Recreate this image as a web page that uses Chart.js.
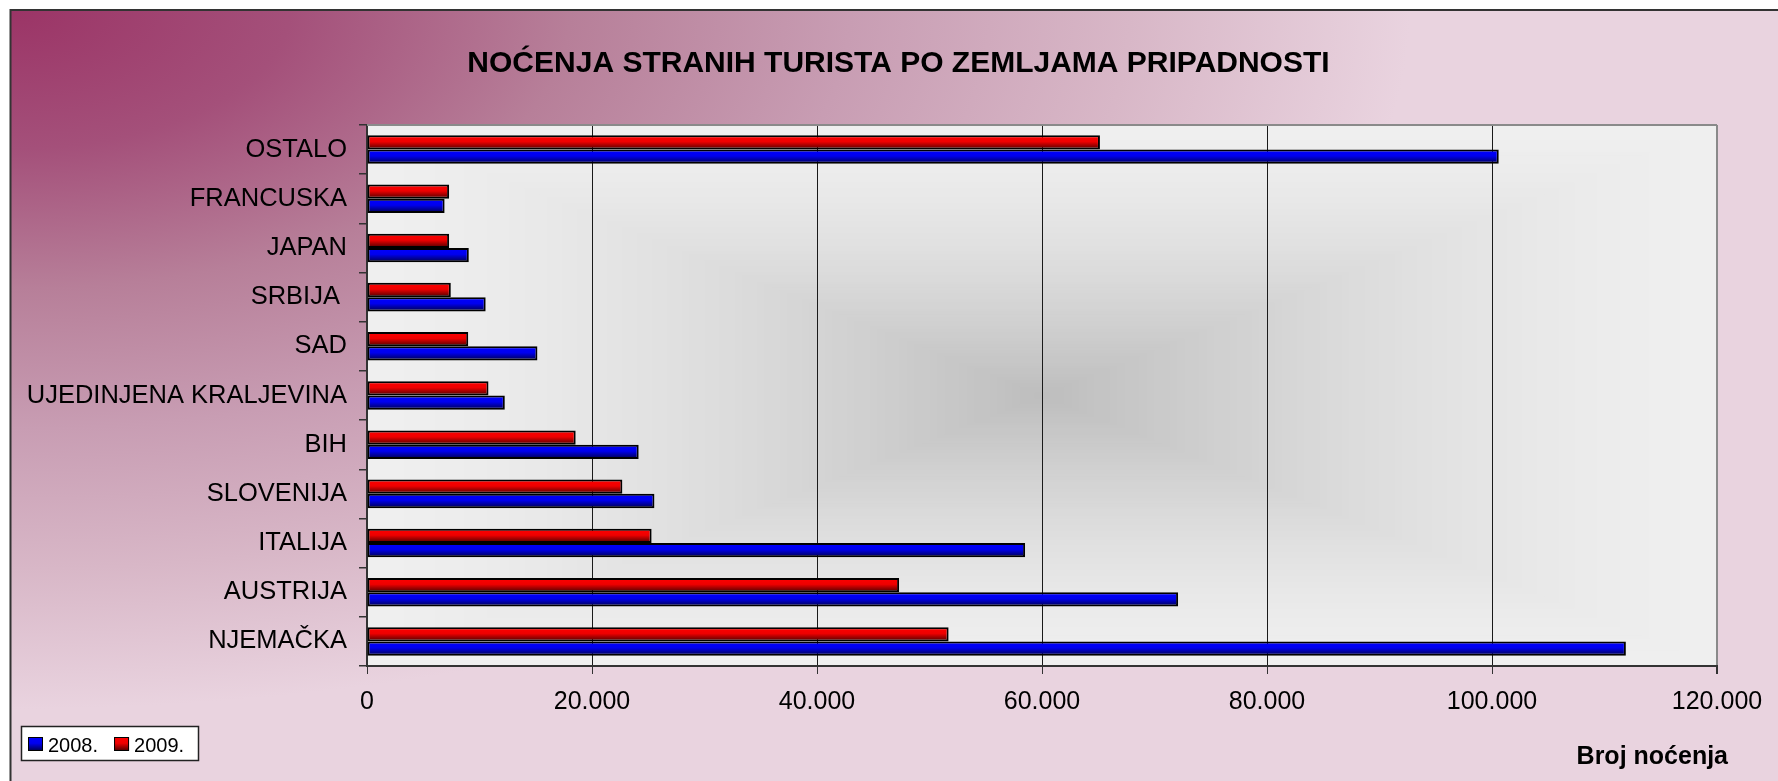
<!DOCTYPE html>
<html>
<head>
<meta charset="utf-8">
<title>Noćenja stranih turista po zemljama pripadnosti</title>
<script src="https://cdn.jsdelivr.net/npm/chart.js@4/dist/chart.umd.min.js"></script>
<style>
  html, body { margin: 0; padding: 0; background: #fff; }
  #wrap { width: 1778px; height: 781px; position: relative; }
</style>
</head>
<body>
<div id="wrap"><canvas id="chart"></canvas></div>
<script>
// categories listed top to bottom, as they appear on the chart
var categories = ['OSTALO', 'FRANCUSKA', 'JAPAN', 'SRBIJA ', 'SAD', 'UJEDINJENA KRALJEVINA',
  'BIH', 'SLOVENIJA', 'ITALIJA', 'AUSTRIJA', 'NJEMAČKA'];
var values2008 = [100600, 6900, 9050, 10550, 15150, 12250, 24150, 25550, 58500, 72100, 111900];
var values2009 = [65150, 7300, 7300, 7450, 9000, 10800, 18550, 22700, 25300, 47300, 51700];
var seriesNames = ['2008.', '2009.'];
var xMin = 0;
var xMax = 120000;
var xStep = 20000;
var chartTitle = 'NOĆENJA STRANIH TURISTA PO ZEMLJAMA PRIPADNOSTI';
var axisName = 'Broj noćenja';

var FONT = "'Liberation Sans', Arial, sans-serif";
var blueStops = ['#0000ff', '#0000ee', '#000048'];
var redStops = ['#ff0000', '#ee0000', '#480000'];
var catPct = 0.58;

Chart.defaults.font.family = FONT;
Chart.defaults.color = '#000';

function fmt(v) {
  return String(v).replace(/\B(?=(\d{3})+(?!\d))/g, '.');
}

function vGradient(ctx, top, bottom, stops) {
  var g = ctx.createLinearGradient(0, top, 0, bottom);
  g.addColorStop(0, stops[0]);
  g.addColorStop(0.45, stops[1]);
  g.addColorStop(1, stops[2]);
  return g;
}

// each bar gets its own top-to-bottom shading
function barFill(stops) {
  return function (context) {
    var chart = context.chart;
    var y = chart.scales.y;
    if (!chart.chartArea || !y) return stops[0];
    var step = (y.bottom - y.top) / categories.length;
    var h = step * catPct / 2;
    var c = y.getPixelForValue(context.dataIndex);
    var top = context.datasetIndex === 0 ? c - h : c;
    return vGradient(chart.ctx, top, top + h, stops);
  };
}

var backdrop = {
  id: 'backdrop',
  beforeDraw: function (chart) {
    var ctx = chart.ctx;
    var w = chart.width, h = chart.height;
    ctx.save();
    ctx.fillStyle = '#fff';
    ctx.fillRect(0, 0, w, h);

    // pink wash coming out of the top left corner
    ctx.save();
    ctx.translate(10, 9);
    ctx.scale(2, 1);
    var g = ctx.createRadialGradient(0, 0, 0, 0, 0, 700);
    g.addColorStop(0, '#9b3466');
    g.addColorStop(0.2, '#a4507a');
    g.addColorStop(0.4, '#b77f99');
    g.addColorStop(0.6, '#c89db3');
    g.addColorStop(0.8, '#d8b7c7');
    g.addColorStop(1, '#e9d3df');
    ctx.fillStyle = g;
    ctx.fillRect(0, 0, (w - 10) / 2, h - 9);
    ctx.restore();

    ctx.strokeStyle = '#333';
    ctx.lineWidth = 2;
    ctx.beginPath();
    ctx.moveTo(10.5, h);
    ctx.lineTo(10.5, 10);
    ctx.lineTo(w, 10);
    ctx.stroke();

    // plot area: grey getting darker towards the middle
    var a = chart.chartArea;
    var cx = (a.left + a.right) / 2, cy = (a.top + a.bottom) / 2;
    var hw = (a.right - a.left) / 2, hh = (a.bottom - a.top) / 2;
    var n = 90;
    for (var i = n; i >= 1; i--) {
      var t = i / n;
      var v = Math.round(189 + 50 * (1 - Math.pow(1 - t, 1.5)));
      ctx.fillStyle = 'rgb(' + v + ',' + v + ',' + v + ')';
      ctx.fillRect(cx - hw * t, cy - hh * t, 2 * hw * t, 2 * hh * t);
    }

    // title
    ctx.fillStyle = '#000';
    ctx.font = 'bold 30px ' + FONT;
    ctx.textAlign = 'center';
    ctx.textBaseline = 'alphabetic';
    ctx.fillText(chartTitle, 898.5, 72);
    ctx.restore();
  },
  beforeDatasetsDraw: function (chart) {
    var ctx = chart.ctx, a = chart.chartArea;
    ctx.save();
    ctx.strokeStyle = '#8a8a8a';
    ctx.lineWidth = 2;
    ctx.beginPath();
    ctx.moveTo(a.left, a.top);
    ctx.lineTo(a.right, a.top);
    ctx.stroke();
    ctx.restore();
  },
  afterDraw: function (chart) {
    var ctx = chart.ctx;
    ctx.save();
    // legend box, bottom left
    ctx.font = '20px ' + FONT;
    ctx.fillStyle = '#fff';
    ctx.fillRect(21, 726, 178, 35);
    ctx.strokeStyle = '#222';
    ctx.lineWidth = 1.5;
    ctx.strokeRect(21.5, 726.5, 177, 34);
    var x = 28;
    var colors = [blueStops, redStops];
    seriesNames.forEach(function (name, i) {
      ctx.fillStyle = vGradient(ctx, 737, 751, colors[i]);
      ctx.fillRect(x, 737, 15, 14);
      ctx.strokeStyle = '#000';
      ctx.lineWidth = 1;
      ctx.strokeRect(x + 0.5, 737.5, 14, 13);
      ctx.fillStyle = '#000';
      ctx.textBaseline = 'alphabetic';
      ctx.textAlign = 'left';
      ctx.fillText(name, x + 20, 752);
      x += 20 + ctx.measureText(name).width + 16;
    });
    // axis name
    ctx.font = 'bold 25px ' + FONT;
    ctx.textAlign = 'right';
    ctx.fillText(axisName, 1728, 764);
    ctx.restore();
  }
};

var ctx = document.getElementById('chart').getContext('2d');
var config = {
  type: 'bar',
  data: {
    labels: categories,
    datasets: [{
      label: seriesNames[1],
      data: values2009,
      backgroundColor: barFill(redStops),
      borderColor: '#000',
      borderWidth: 2,
      borderSkipped: false
    }, {
      label: seriesNames[0],
      data: values2008,
      backgroundColor: barFill(blueStops),
      borderColor: '#000',
      borderWidth: 2,
      borderSkipped: false
    }]
  },
  options: {
    indexAxis: 'y',
    responsive: true,
    maintainAspectRatio: false,
    animation: false,
    layout: {
      padding: { left: 10, right: 61, top: 125, bottom: 0 }
    },
    datasets: {
      bar: { categoryPercentage: catPct, barPercentage: 1.0 }
    },
    plugins: {
      legend: { display: false },
      tooltip: { enabled: false },
      title: { display: false }
    },
    scales: {
      x: {
        min: xMin,
        max: xMax,
        ticks: {
          stepSize: xStep,
          padding: 13,
          font: { size: 25 },
          color: '#000',
          maxRotation: 0,
          callback: function (v) { return fmt(v); }
        },
        grid: {
          color: function (c) { return c.tick && c.tick.value === xMax ? '#8a8a8a' : '#1a1a1a'; },
          lineWidth: function (c) { return c.tick && c.tick.value === xMax ? 2 : 1; },
          tickColor: '#333',
          tickLength: 8
        },
        border: { color: '#333', width: 2 },
        afterFit: function (scale) { scale.height = 115; }
      },
      y: {
        ticks: {
          padding: 12,
          font: { size: 25.5 },
          color: '#000',
          autoSkip: false
        },
        grid: {
          drawOnChartArea: false,
          color: '#333',
          lineWidth: 1.5,
          tickLength: 8
        },
        border: { color: '#333', width: 2 },
        afterFit: function (scale) { scale.width = 357; }
      }
    }
  },
  plugins: [backdrop]
};
var chart = new Chart(ctx, config);
</script>
</body>
</html>
